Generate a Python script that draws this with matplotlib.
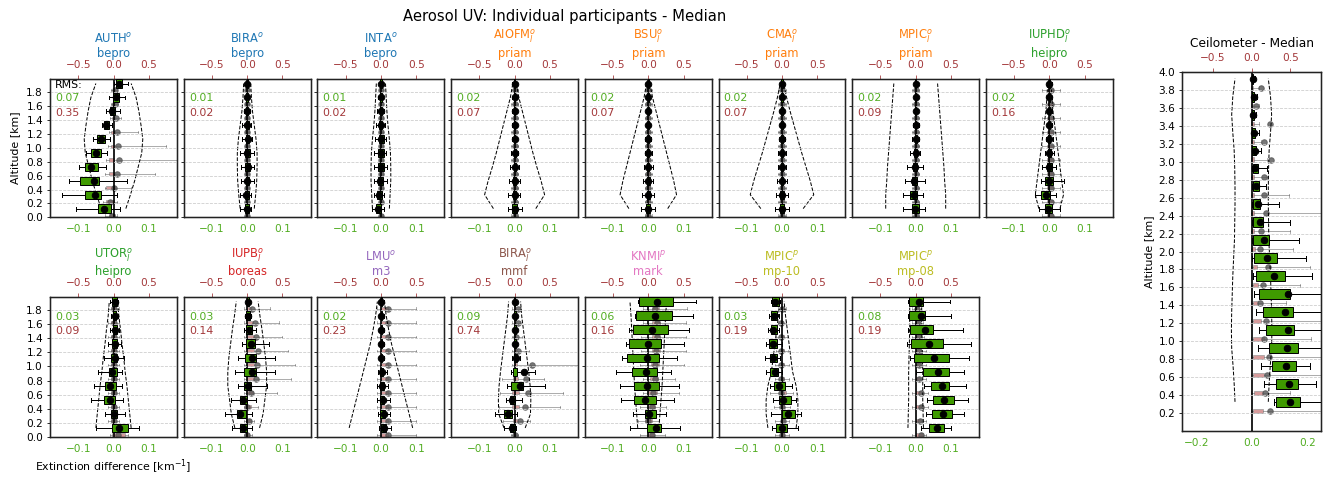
import numpy as np
import matplotlib
matplotlib.use('Agg')
import matplotlib.pyplot as plt

# ---------------------------------------------------------------- data
# green boxes: (whisker_lo, q1, mean, q3, whisker_hi) in extinction difference [km-1] (bottom axis)
# red boxes:   (whisker_lo, q1, mean, q3, whisker_hi) in relative difference (top axis)
# env: half-width of the dashed envelope [km-1]

auth_green = [(-0.106, -0.045, -0.028, -0.007, 0.019), (-0.145, -0.082, -0.052, -0.036, 0.011),
              (-0.127, -0.096, -0.056, -0.042, 0.038), (-0.099, -0.080, -0.064, -0.043, -0.021),
              (-0.077, -0.064, -0.049, -0.036, -0.019), (-0.058, -0.046, -0.035, -0.024, -0.011),
              (-0.033, -0.027, -0.020, -0.013, -0.005), (-0.021, -0.011, -0.004, 0.005, 0.019),
              (-0.014, -0.002, 0.007, 0.015, 0.033), (0.000, 0.008, 0.015, 0.024, 0.041)]
auth_red = [(-0.12, -0.07, -0.025, 0.02, 0.05), (-0.15, -0.10, -0.045, 0.0, 0.05),
            (-0.12, -0.10, 0.0, 0.02, 0.25), (-0.12, -0.06, 0.055, 0.0, 0.59),
            (-0.10, -0.06, 0.08, 0.0, 1.0), (-0.08, -0.04, 0.07, 0.02, 0.75),
            (-0.06, -0.03, 0.045, 0.02, 0.35), (-0.05, -0.02, 0.04, 0.02, 0.10),
            (-0.04, -0.02, 0.025, 0.02, 0.06), (-0.03, -0.01, 0.015, 0.02, 0.05)]
auth_env = [0.035, 0.048, 0.060, 0.070, 0.080, 0.083, 0.078, 0.072, 0.064, 0.050]

bira_green = [(-0.020, -0.005, -0.001, 0.005, 0.012), (-0.020, -0.005, -0.002, 0.004, 0.012),
              (-0.018, -0.004, 0.000, 0.006, 0.018), (-0.018, -0.005, 0.001, 0.007, 0.018),
              (-0.020, -0.007, 0.000, 0.008, 0.018), (-0.015, -0.004, 0.001, 0.006, 0.014),
              (-0.015, -0.003, 0.000, 0.004, 0.010), (-0.008, -0.002, 0.000, 0.003, 0.008),
              (-0.006, -0.002, 0.000, 0.002, 0.006), (-0.004, -0.001, 0.000, 0.002, 0.004)]
bira_red = [(-0.03, -0.01, 0.0, 0.01, 0.03)] * 10
bira_env = [0.020, 0.024, 0.027, 0.028, 0.028, 0.025, 0.020, 0.015, 0.012, 0.010]

inta_green = [(-0.024, -0.014, -0.008, 0.000, 0.009), (-0.020, -0.011, -0.006, 0.002, 0.010),
              (-0.020, -0.008, -0.003, 0.005, 0.017), (-0.019, -0.007, 0.000, 0.008, 0.017),
              (-0.020, -0.009, 0.000, 0.008, 0.015), (-0.017, -0.006, 0.000, 0.008, 0.015),
              (-0.014, -0.004, 0.000, 0.004, 0.012), (-0.010, -0.003, 0.000, 0.003, 0.008),
              (-0.008, -0.002, 0.000, 0.002, 0.006), (-0.006, -0.002, 0.000, 0.002, 0.005)]
inta_red = [(-0.03, -0.01, 0.0, 0.01, 0.03)] * 10
inta_env = [0.024, 0.026, 0.028, 0.028, 0.027, 0.024, 0.020, 0.017, 0.015, 0.013]

aiofm_green = [(-0.020, -0.006, 0.000, 0.006, 0.020), (-0.018, -0.005, 0.000, 0.005, 0.016),
               (-0.015, -0.004, 0.000, 0.004, 0.014), (-0.012, -0.003, 0.000, 0.003, 0.012),
               (-0.010, -0.003, 0.000, 0.003, 0.010), (-0.008, -0.002, 0.000, 0.002, 0.008),
               (-0.006, -0.002, 0.000, 0.002, 0.006), (-0.006, -0.002, 0.000, 0.002, 0.006),
               (-0.006, -0.002, 0.000, 0.002, 0.006), (-0.006, -0.002, 0.000, 0.002, 0.006)]
aiofm_red = [(-0.05, -0.02, 0.0, 0.02, 0.05)] * 10
aiofm_env = [0.060, 0.085, 0.075, 0.063, 0.052, 0.042, 0.032, 0.022, 0.012, 0.005]

bsu_green = [(-0.020, -0.006, 0.000, 0.006, 0.020), (-0.018, -0.005, 0.000, 0.005, 0.016),
             (-0.015, -0.004, 0.000, 0.004, 0.014), (-0.012, -0.003, 0.000, 0.003, 0.012),
             (-0.010, -0.003, 0.000, 0.003, 0.010), (-0.008, -0.002, 0.000, 0.002, 0.008),
             (-0.006, -0.002, 0.000, 0.002, 0.006), (-0.006, -0.002, 0.000, 0.002, 0.006),
             (-0.006, -0.002, 0.000, 0.002, 0.006), (-0.006, -0.002, 0.000, 0.002, 0.006)]
bsu_red = [(-0.05, -0.02, 0.0, 0.02, 0.05)] * 10
bsu_env = [0.055, 0.080, 0.072, 0.062, 0.052, 0.042, 0.032, 0.022, 0.012, 0.005]

cma_green = [(-0.020, -0.006, 0.000, 0.006, 0.020), (-0.018, -0.005, 0.000, 0.005, 0.016),
             (-0.015, -0.004, 0.000, 0.004, 0.014), (-0.012, -0.003, 0.000, 0.003, 0.012),
             (-0.010, -0.003, 0.000, 0.003, 0.010), (-0.008, -0.002, 0.000, 0.002, 0.008),
             (-0.006, -0.002, 0.000, 0.002, 0.006), (-0.006, -0.002, 0.000, 0.002, 0.006),
             (-0.006, -0.002, 0.000, 0.002, 0.006), (-0.006, -0.002, 0.000, 0.002, 0.006)]
cma_red = [(-0.05, -0.02, 0.0, 0.02, 0.05)] * 10
cma_env = [0.060, 0.090, 0.080, 0.068, 0.056, 0.045, 0.034, 0.023, 0.013, 0.005]

mpic_green = [(-0.035, -0.010, -0.002, 0.010, 0.025), (-0.035, -0.015, -0.006, 0.005, 0.020),
              (-0.030, -0.010, -0.004, 0.005, 0.025), (-0.025, -0.008, -0.002, 0.005, 0.020),
              (-0.015, -0.004, 0.000, 0.004, 0.012), (-0.010, -0.003, 0.000, 0.003, 0.010),
              (-0.008, -0.002, 0.000, 0.002, 0.008), (-0.006, -0.002, 0.000, 0.002, 0.006),
              (-0.006, -0.002, 0.000, 0.002, 0.006), (-0.006, -0.002, 0.000, 0.002, 0.006)]
mpic_red = [(-0.05, -0.02, 0.0, 0.02, 0.05)] * 10
mpic_env = [0.085, 0.085, 0.082, 0.080, 0.077, 0.074, 0.071, 0.068, 0.065, 0.062]

iuphd_green = [(-0.030, -0.012, -0.004, 0.006, 0.030), (-0.040, -0.025, -0.010, 0.003, 0.020),
               (-0.025, -0.012, -0.002, 0.010, 0.040), (-0.020, -0.008, 0.000, 0.006, 0.020),
               (-0.012, -0.004, 0.000, 0.004, 0.012), (-0.010, -0.003, 0.000, 0.003, 0.010),
               (-0.008, -0.002, 0.000, 0.002, 0.008), (-0.006, -0.002, 0.000, 0.002, 0.006),
               (-0.006, -0.002, 0.000, 0.002, 0.006), (-0.006, -0.002, 0.000, 0.002, 0.006)]
iuphd_red = [(-0.1, -0.03, 0.02, 0.05, 0.15)] * 10
iuphd_env = [0.030, 0.040, 0.035, 0.030, 0.025, 0.020, 0.015, 0.010, 0.007, 0.005]

utor_green = [(-0.049, -0.003, 0.016, 0.042, 0.071), (-0.024, -0.007, 0.002, 0.011, 0.033),
              (-0.063, -0.026, -0.011, 0.005, 0.028), (-0.055, -0.024, -0.009, 0.008, 0.025),
              (-0.045, -0.014, -0.004, 0.011, 0.024), (-0.028, -0.006, 0.003, 0.011, 0.030),
              (-0.015, -0.004, 0.004, 0.011, 0.020), (-0.010, -0.002, 0.004, 0.009, 0.015),
              (-0.008, -0.002, 0.003, 0.008, 0.012), (-0.010, -0.003, 0.003, 0.009, 0.014)]
utor_red = [(-0.05, -0.02, 0.06, 0.17, 0.20)] + [(-0.08, -0.03, 0.0, 0.03, 0.08)] * 9
utor_env = [0.050, 0.046, 0.042, 0.038, 0.033, 0.029, 0.024, 0.020, 0.015, 0.012]

iupb_green = [(-0.044, -0.021, -0.012, 0.000, 0.014), (-0.063, -0.028, -0.019, -0.002, 0.014),
              (-0.047, -0.021, -0.012, 0.000, 0.026), (-0.026, -0.008, 0.003, 0.011, 0.055),
              (-0.035, -0.009, 0.014, 0.026, 0.078), (-0.025, -0.005, 0.014, 0.026, 0.078),
              (-0.015, -0.002, 0.011, 0.021, 0.061), (-0.010, -0.002, 0.005, 0.014, 0.025),
              (-0.005, -0.002, 0.002, 0.008, 0.012), (-0.004, -0.001, 0.002, 0.005, 0.008)]
iupb_red = [(-0.05, -0.02, 0.0, 0.03, 0.07), (-0.05, -0.02, 0.025, 0.05, 0.10),
            (-0.05, -0.02, 0.0, 0.05, 0.15), (-0.05, 0.0, 0.055, 0.08, 0.42),
            (-0.05, 0.0, 0.12, 0.10, 0.62), (-0.05, 0.0, 0.14, 0.10, 0.68),
            (-0.05, 0.0, 0.155, 0.10, 0.58), (-0.05, 0.0, 0.13, 0.10, 0.50),
            (-0.05, 0.0, 0.11, 0.08, 0.45), (-0.05, 0.0, 0.07, 0.06, 0.32)]
iupb_env = [0.035, 0.045, 0.050, 0.055, 0.055, 0.052, 0.047, 0.042, 0.036, 0.031]

lmu_green = [(-0.005, 0.000, 0.010, 0.015, 0.030), (-0.008, -0.002, 0.008, 0.012, 0.025),
             (-0.010, -0.003, 0.006, 0.010, 0.025), (-0.010, -0.003, 0.004, 0.008, 0.020),
             (-0.008, -0.002, 0.003, 0.007, 0.018), (-0.005, -0.001, 0.001, 0.004, 0.010),
             (-0.005, -0.001, 0.001, 0.004, 0.010), (-0.005, -0.001, 0.001, 0.004, 0.010),
             (-0.005, -0.001, 0.001, 0.004, 0.010), (-0.005, -0.001, 0.001, 0.004, 0.010)]
lmu_red = [(-0.05, 0.0, 0.1, 0.1, 0.5)] * 10
lmu_env = [0.090, 0.080, 0.070, 0.060, 0.050, 0.040, 0.030, 0.022, 0.015, 0.010]

biramm_green = [(-0.031, -0.012, -0.006, 0.000, 0.005), (-0.055, -0.029, -0.020, -0.008, 0.006),
                (-0.024, -0.012, -0.008, 0.002, 0.021), (-0.022, -0.009, 0.014, 0.025, 0.087),
                (-0.010, -0.005, 0.028, 0.008, 0.058), (-0.008, -0.003, 0.005, 0.008, 0.016),
                (-0.004, -0.001, 0.002, 0.004, 0.008), (-0.004, -0.001, 0.001, 0.003, 0.006),
                (-0.004, -0.001, 0.001, 0.003, 0.006), (-0.003, -0.001, 0.000, 0.002, 0.005)]
biramm_red = [(-0.05, -0.02, 0.0, 0.02, 0.05), (-0.165, -0.02, 0.08, 0.05, 0.225),
              (-0.215, -0.03, 0.15, 0.06, 0.645), (-0.20, -0.03, 0.185, 0.06, 0.69),
              (-0.175, -0.02, 0.16, 0.05, 0.41), (-0.04, -0.01, 0.245, 0.04, 1.0),
              (-0.04, -0.01, 0.045, 0.03, 0.205), (-0.03, -0.01, 0.025, 0.02, 0.10),
              (-0.03, -0.01, 0.045, 0.02, 0.08), (-0.03, -0.01, 0.045, 0.02, 0.08)]
biramm_env = [0.030, 0.045, 0.046, 0.044, 0.040, 0.035, 0.030, 0.025, 0.020, 0.017]

knmi_green = [(-0.052, -0.003, 0.022, 0.036, 0.090), (-0.042, -0.009, 0.002, 0.022, 0.050),
              (-0.077, -0.041, -0.009, 0.022, 0.073), (-0.080, -0.040, -0.003, 0.030, 0.087),
              (-0.092, -0.047, -0.006, 0.024, 0.064), (-0.074, -0.061, -0.003, 0.031, 0.082),
              (-0.063, -0.054, 0.000, 0.037, 0.101), (-0.054, -0.042, 0.011, 0.057, 0.116),
              (-0.038, -0.035, 0.020, 0.067, 0.127), (-0.028, -0.027, 0.024, 0.071, 0.135)]
knmi_red = [(-0.12, 0.0, 0.05, 0.08, 0.24), (-0.15, -0.05, 0.0, 0.05, 0.15),
            (-0.12, 0.0, 0.05, 0.10, 0.25), (-0.07, 0.0, 0.07, 0.12, 0.44),
            (-0.07, 0.02, 0.09, 0.14, 0.38), (-0.12, 0.04, 0.10, 0.15, 0.50),
            (-0.10, 0.05, 0.11, 0.16, 0.53), (-0.10, 0.05, 0.12, 0.17, 0.54),
            (-0.07, 0.05, 0.12, 0.17, 0.54), (-0.07, 0.05, 0.10, 0.15, 0.55)]
knmi_env = [0.030, 0.033, 0.036, 0.039, 0.041, 0.043, 0.045, 0.047, 0.049, 0.052]

mp10_green = [(-0.029, -0.018, 0.000, 0.013, 0.046), (-0.030, 0.000, 0.018, 0.037, 0.053),
              (-0.026, -0.008, 0.004, 0.026, 0.041), (-0.034, -0.022, -0.008, 0.008, 0.027),
              (-0.046, -0.034, -0.020, -0.010, 0.001), (-0.048, -0.034, -0.026, -0.015, -0.006),
              (-0.045, -0.036, -0.025, -0.015, -0.001), (-0.041, -0.032, -0.025, -0.015, -0.008),
              (-0.036, -0.030, -0.023, -0.013, -0.008), (-0.032, -0.028, -0.019, -0.008, -0.006)]
mp10_red = [(-0.10, -0.02, 0.0, 0.03, 0.10), (-0.10, -0.02, 0.02, 0.03, 0.10),
            (-0.12, -0.02, 0.0, 0.03, 0.12), (-0.17, -0.03, -0.02, 0.05, 0.16),
            (-0.10, -0.02, -0.015, 0.03, 0.10), (-0.10, -0.02, -0.01, 0.03, 0.10),
            (-0.08, -0.02, -0.015, 0.03, 0.08), (-0.08, -0.02, -0.01, 0.03, 0.08),
            (-0.06, -0.02, -0.02, 0.02, 0.06), (-0.06, -0.02, 0.0, 0.02, 0.06)]
mp10_env = [0.040, 0.045, 0.045, 0.040, 0.030, 0.025, 0.020, 0.015, 0.010, 0.006]

mp08_green = [(0.016, 0.038, 0.060, 0.079, 0.099), (0.030, 0.047, 0.077, 0.103, 0.136),
              (0.032, 0.049, 0.080, 0.108, 0.148), (0.023, 0.042, 0.075, 0.093, 0.142),
              (0.002, 0.021, 0.063, 0.093, 0.137), (-0.017, -0.005, 0.052, 0.094, 0.151),
              (-0.024, -0.012, 0.038, 0.078, 0.156), (-0.022, -0.015, 0.025, 0.049, 0.134),
              (-0.022, -0.018, 0.014, 0.027, 0.101), (-0.022, -0.019, 0.009, 0.021, 0.096)]
mp08_red = [(-0.05, 0.0, 0.08, 0.10, 0.15), (-0.05, 0.0, 0.055, 0.08, 0.15),
            (-0.05, 0.0, 0.07, 0.08, 0.18), (-0.05, 0.0, 0.07, 0.08, 0.18),
            (-0.05, 0.0, 0.04, 0.06, 0.15), (-0.05, 0.0, 0.045, 0.06, 0.15),
            (-0.05, 0.0, 0.045, 0.06, 0.15), (-0.05, 0.0, 0.04, 0.06, 0.12),
            (-0.05, 0.0, 0.035, 0.05, 0.10), (-0.05, 0.0, 0.02, 0.04, 0.08)]
mp08_env = [0.022, 0.021, 0.020, 0.020, 0.020, 0.019, 0.018, 0.017, 0.017, 0.017]

ceil_green = [(0.079, 0.089, 0.140, 0.176, 0.260), (0.043, 0.089, 0.134, 0.166, 0.232),
              (0.035, 0.074, 0.125, 0.160, 0.210), (0.023, 0.061, 0.128, 0.166, 0.270),
              (0.026, 0.053, 0.130, 0.154, 0.270), (0.017, 0.041, 0.122, 0.148, 0.270),
              (0.008, 0.026, 0.130, 0.140, 0.270), (0.004, 0.014, 0.080, 0.121, 0.218),
              (0.002, 0.007, 0.056, 0.091, 0.196), (0.000, 0.005, 0.043, 0.062, 0.172),
              (0.000, 0.005, 0.031, 0.041, 0.139), (0.000, 0.005, 0.023, 0.029, 0.098),
              (0.000, 0.005, 0.014, 0.026, 0.050), (0.000, 0.004, 0.013, 0.023, 0.055),
              (0.000, 0.003, 0.011, 0.017, 0.035), (0.000, 0.002, 0.007, 0.012, 0.026),
              (0.000, 0.001, 0.005, 0.008, 0.017), (0.000, 0.002, 0.007, 0.010, 0.019),
              (0.000, 0.001, 0.004, 0.005, 0.011)]
ceil_red_mean = [0.243, 0.178, 0.204, 0.222, 0.157, 0.183, 0.104, 0.148, 0.213, 0.104,
                 0.126, 0.191, 0.157, 0.161, 0.248, 0.157, 0.235, 0.052, 0.126]
ceil_red_q1 = [0.017, 0.030, 0.017, 0.017, 0.017, 0.017, 0.017, 0.017, 0.017, 0.010,
               0.005, 0.005, 0.005, 0.005, 0.005, 0.003, 0.003, 0.003, 0.003]
ceil_red_q3 = [0.148, 0.148, 0.157, 0.157, 0.157, 0.125, 0.083, 0.083, 0.075, 0.040,
               0.035, 0.035, 0.030, 0.030, 0.030, 0.025, 0.025, 0.020, 0.020]
ceil_red_hi = [1.0, 0.50, 1.0, 1.0, 0.77, 1.0, 0.45, 0.63, 0.76, 0.54,
               0.50, 1.0, 0.48, 0.20, 0.20, 0.12, 0.10, 0.10, 0.10]
ceil_env = [0.060, 0.063, 0.067, 0.072, 0.073, 0.072, 0.070, 0.068, 0.065, 0.062,
            0.061, 0.060, 0.060, 0.061, 0.063, 0.068, 0.072, 0.068, 0.060]

names = ['AUTH$^o$', 'BIRA$^o$', 'INTA$^o$', 'AIOFM$_l^o$', 'BSU$_l^o$', 'CMA$_l^o$', 'MPIC$_l^o$',
         'IUPHD$_l^o$', 'UTOR$_l^o$', 'IUPB$_l^o$', 'LMU$^o$', 'BIRA$_l^o$', 'KNMI$^p$', 'MPIC$^p$',
         'MPIC$^p$']
algos = ['bepro', 'bepro', 'bepro', 'priam', 'priam', 'priam', 'priam', 'heipro',
         'heipro', 'boreas', 'm3', 'mmf', 'mark', 'mp-10', 'mp-08']
name_colors = ['#1f77b4', '#1f77b4', '#1f77b4', '#ff7f0e', '#ff7f0e', '#ff7f0e', '#ff7f0e',
               '#2ca02c', '#2ca02c', '#d62728', '#9467bd', '#8c564b', '#e377c2', '#bcbd22',
               '#bcbd22']
rms_ext = ['0.07', '0.01', '0.01', '0.02', '0.02', '0.02', '0.02', '0.02',
           '0.03', '0.03', '0.02', '0.09', '0.06', '0.03', '0.08']
rms_rel = ['0.35', '0.02', '0.02', '0.07', '0.07', '0.07', '0.09', '0.16',
           '0.09', '0.14', '0.23', '0.74', '0.16', '0.19', '0.19']
greens = [auth_green, bira_green, inta_green, aiofm_green, bsu_green, cma_green, mpic_green,
          iuphd_green, utor_green, iupb_green, lmu_green, biramm_green, knmi_green,
          mp10_green, mp08_green]
reds = [auth_red, bira_red, inta_red, aiofm_red, bsu_red, cma_red, mpic_red, iuphd_red,
        utor_red, iupb_red, lmu_red, biramm_red, knmi_red, mp10_red, mp08_red]
envs = [auth_env, bira_env, inta_env, aiofm_env, bsu_env, cma_env, mpic_env, iuphd_env,
        utor_env, iupb_env, lmu_env, biramm_env, knmi_env, mp10_env, mp08_env]

alt_green = np.arange(10) * 0.2 + 0.125
alt_red = np.arange(10) * 0.2 + 0.025
ceil_alt_green = np.arange(19) * 0.2 + 0.325
ceil_alt_red = np.arange(19) * 0.2 + 0.225

# ---------------------------------------------------------------- style
DPI = 72
W, H = 1326, 477
GREEN_TXT = '#52ad22'
RED_TXT = '#a3383a'
BOX_GREEN = '#3f9a00'
RED_BOX = '#cf8a8a'
TICK_FS = 10.5
LAB_FS = 11

plt.rcParams['font.family'] = ['DejaVu Sans']
plt.rcParams['font.size'] = 10

fig = plt.figure(figsize=(W / DPI, H / DPI), dpi=DPI)


def to_stats(rows):
    return [dict(whislo=r[0], q1=r[1], med=r[2], mean=r[2], q3=r[3], whishi=r[4], fliers=[])
            for r in rows]


def draw(ax, green, red, env, ag, ar, xb, xt, ticks_b, capw, boxw):
    axt = ax.twiny()
    ax.set_zorder(axt.get_zorder() + 1)
    ax.patch.set_visible(False)
    env = np.asarray(env)
    ax.plot(env, ag, ls='--', color='k', lw=1.0, zorder=1)
    ax.plot(-env, ag, ls='--', color='k', lw=1.0, zorder=1)
    ax.axvline(0, color='k', lw=1.7, zorder=1.5)
    axt.bxp(to_stats(red), positions=ar, widths=0.045, orientation='horizontal',
            patch_artist=True, showmeans=True, manage_ticks=False, capwidths=capw * 0.6,
            boxprops=dict(facecolor=RED_BOX, edgecolor='#999999', lw=0.8, alpha=0.85),
            whiskerprops=dict(color='#555555', lw=0.8, alpha=0.6),
            capprops=dict(color='#555555', lw=0.8, alpha=0.6),
            medianprops=dict(lw=0),
            meanprops=dict(marker='o', markerfacecolor='#555555', markeredgecolor='#555555',
                           markersize=5.5, alpha=0.8))
    ax.bxp(to_stats(green), positions=ag, widths=boxw, orientation='horizontal',
           patch_artist=True, showmeans=True, manage_ticks=False, capwidths=capw,
           boxprops=dict(facecolor=BOX_GREEN, edgecolor='k', lw=1.0),
           whiskerprops=dict(color='k', lw=1.0), capprops=dict(color='k', lw=1.0),
           medianprops=dict(lw=0),
           meanprops=dict(marker='o', markerfacecolor='k', markeredgecolor='k', markersize=6.5),
           zorder=3)
    ax.set_xlim(*xb)
    axt.set_xlim(*xt)
    ax.set_xticks(ticks_b)
    axt.set_xticks([-0.5, 0.0, 0.5])
    ax.tick_params(axis='x', colors=GREEN_TXT, labelsize=TICK_FS, length=0, pad=7)
    axt.tick_params(axis='x', colors=RED_TXT, labelsize=TICK_FS, length=4, pad=5)
    ax.grid(axis='y', ls='--', color='#cccccc', lw=0.8, zorder=0)
    for a in (ax, axt):
        for s in a.spines.values():
            s.set_linewidth(1.3)
            s.set_color('#222222')
    return axt


# small panels
col_left = 50.0
col_pitch = 133.7
pw = 127.0
rows_y = [(79.0, 217.3), (297.0, 436.7)]
layout = [(0, c) for c in range(8)] + [(1, c) for c in range(7)]

for i, (r, c) in enumerate(layout):
    top, bot = rows_y[r]
    x0 = col_left + c * col_pitch
    ax = fig.add_axes([x0 / W, 1 - bot / H, pw / W, (bot - top) / H])
    axt = draw(ax, greens[i], reds[i], envs[i], alt_green, alt_red,
               (-0.18, 0.18), (-0.9, 0.9), [-0.1, 0.0, 0.1], 0.055, 0.12)
    ax.set_ylim(0, 1.99)
    ax.set_yticks(np.arange(0, 1.81, 0.2))
    ax.tick_params(axis='y', labelsize=TICK_FS, length=3.5, labelleft=(c == 0))
    axt.set_title(names[i] + '\n' + algos[i], color=name_colors[i], fontsize=11.5, pad=3,
                  linespacing=1.15)
    if i == 0:
        ax.text(0.04, 0.955, 'RMS:', transform=ax.transAxes, va='center', ha='left',
                color='k', fontsize=LAB_FS)
        ax.set_ylabel('Altitude [km]', fontsize=LAB_FS, labelpad=6)
    ax.text(0.04, 0.86, rms_ext[i], transform=ax.transAxes, va='center', ha='left',
            color=GREEN_TXT, fontsize=LAB_FS)
    ax.text(0.04, 0.757, rms_rel[i], transform=ax.transAxes, va='center', ha='left',
            color=RED_TXT, fontsize=LAB_FS)

# ceilometer
ceil_red = list(zip([-0.01] * 19, ceil_red_q1, ceil_red_mean, ceil_red_q3, ceil_red_hi))
axc = fig.add_axes([1182.3 / W, 1 - 431.0 / H, 138.7 / W, (431.0 - 72.0) / H])
axct = draw(axc, ceil_green, ceil_red, ceil_env, ceil_alt_green, ceil_alt_red,
            (-0.25, 0.25), (-0.9, 0.9), [-0.2, 0.0, 0.2], 0.06, 0.11)
axc.set_ylim(0, 4.0)
axc.set_yticks(np.arange(0.2, 4.01, 0.2))
axc.tick_params(axis='y', labelsize=TICK_FS, length=3.5)
axc.set_ylabel('Altitude [km]', fontsize=LAB_FS)
axct.set_title('Ceilometer - Median', fontsize=12.3, pad=6)

fig.text(565 / W, 1 - 16 / H, 'Aerosol UV: Individual participants - Median',
         ha='center', va='center', fontsize=14.8)
fig.text(35 / W, 1 - 467 / H, 'Extinction difference [km$^{-1}$]',
         ha='left', va='center', fontsize=LAB_FS)

fig.savefig('out.png', dpi=DPI)
